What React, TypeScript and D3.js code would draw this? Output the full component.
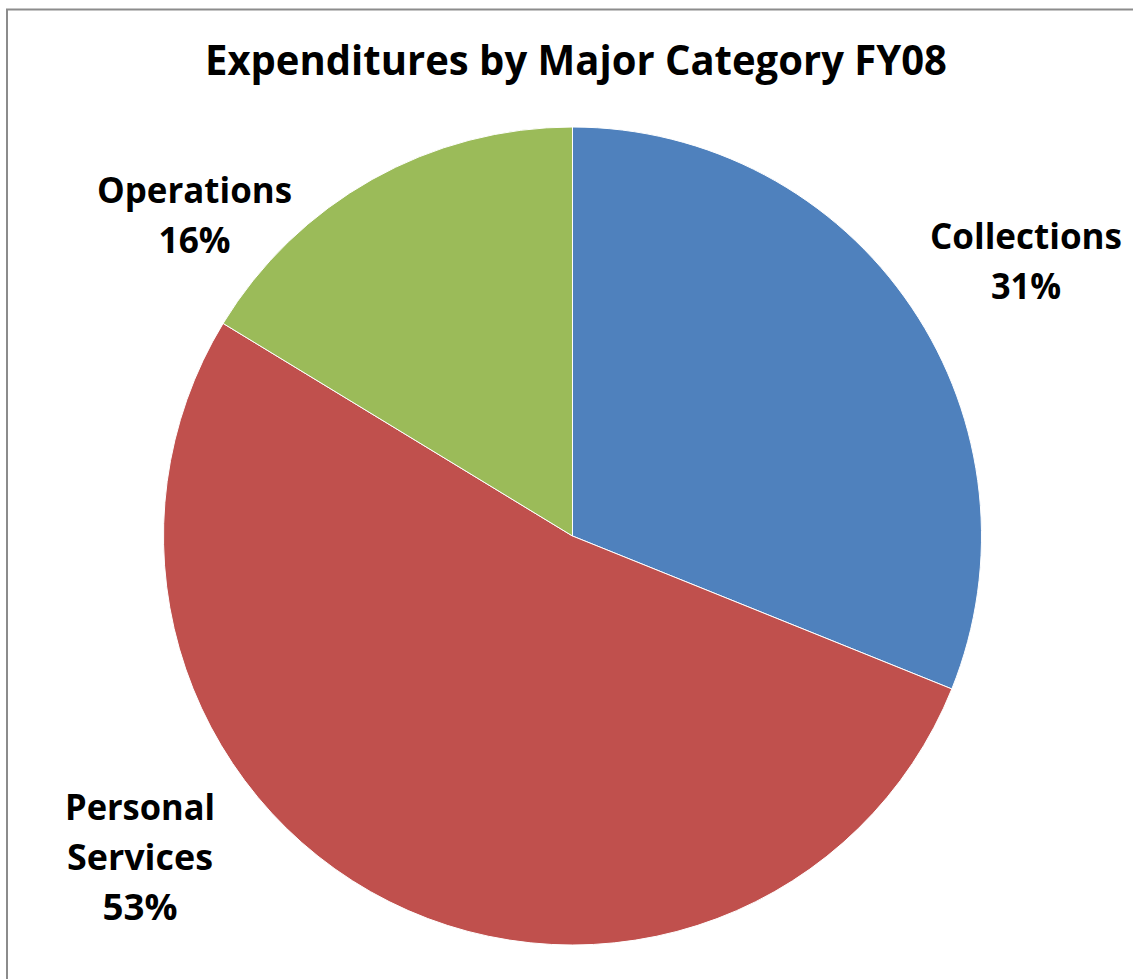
import React, { useEffect, useRef } from "react";
import * as d3 from "d3";

const categories = ["Collections", "Personal Services", "Operations"];
const values = [31.1, 52.6, 16.3];
const percentLabels = ["31%", "53%", "16%"];
const colors = ["#4F81BD", "#C0504D", "#9BBB59"];
const title = "Expenditures by Major Category FY08";

export default function App() {
  const ref = useRef<SVGSVGElement>(null);

  useEffect(() => {
    const svg = d3.select(ref.current);
    svg.selectAll("*").remove();
    const W = 1133, H = 979;
    const cx = 572.5, cy = 536, r = 409;

    svg.append("rect").attr("x", 0).attr("y", 0).attr("width", W).attr("height", H).attr("fill", "#fff");
    svg.append("rect")
      .attr("x", 7).attr("y", 9.5).attr("width", 1300).attr("height", 1300)
      .attr("fill", "none").attr("stroke", "#8c8c8c").attr("stroke-width", 2);

    const font = "'Open Sans', 'Liberation Sans', sans-serif";
    svg.append("text")
      .attr("x", 205).attr("y", 75)
      .attr("font-family", font).attr("font-weight", 700).attr("font-size", 42)
      .attr("textLength", 742).attr("lengthAdjust", "spacingAndGlyphs")
      .attr("fill", "#000")
      .text(title);

    const pie = d3.pie<number>().sort(null).value((d) => d);
    const arcs = pie(values);
    const arc = d3.arc<d3.PieArcDatum<number>>().innerRadius(0).outerRadius(r);
    const g = svg.append("g").attr("transform", `translate(${cx},${cy})`);
    g.selectAll("path").data(arcs).enter().append("path")
      .attr("d", arc as any)
      .attr("fill", (_d, i) => colors[i])
      .attr("stroke", "#fff").attr("stroke-width", 1).attr("stroke-linejoin", "round");

    // label layout: lines, center x, first baseline, widths
    const labelSpecs = [
      { lines: ["Collections", percentLabels[0]], x: 1026, y: 249, widths: [192, 70] },
      { lines: ["Personal", "Services", percentLabels[1]], x: 140, y: 820, widths: [150, 146, 75] },
      { lines: ["Operations", percentLabels[2]], x: 194.5, y: 203, widths: [195, 72] },
    ];
    labelSpecs.forEach((spec) => {
      spec.lines.forEach((line, j) => {
        svg.append("text")
          .attr("x", spec.x - spec.widths[j] / 2).attr("y", spec.y + j * 50)
          .attr("font-family", font).attr("font-weight", 700).attr("font-size", 36)
          .attr("textLength", spec.widths[j]).attr("lengthAdjust", "spacingAndGlyphs")
          .attr("fill", "#000")
          .text(line);
      });
    });
  }, []);

  return (
    <svg
      ref={ref}
      width={1133}
      height={979}
      style={{ position: "fixed", left: 0, top: 0, display: "block" }}
    />
  );
}
